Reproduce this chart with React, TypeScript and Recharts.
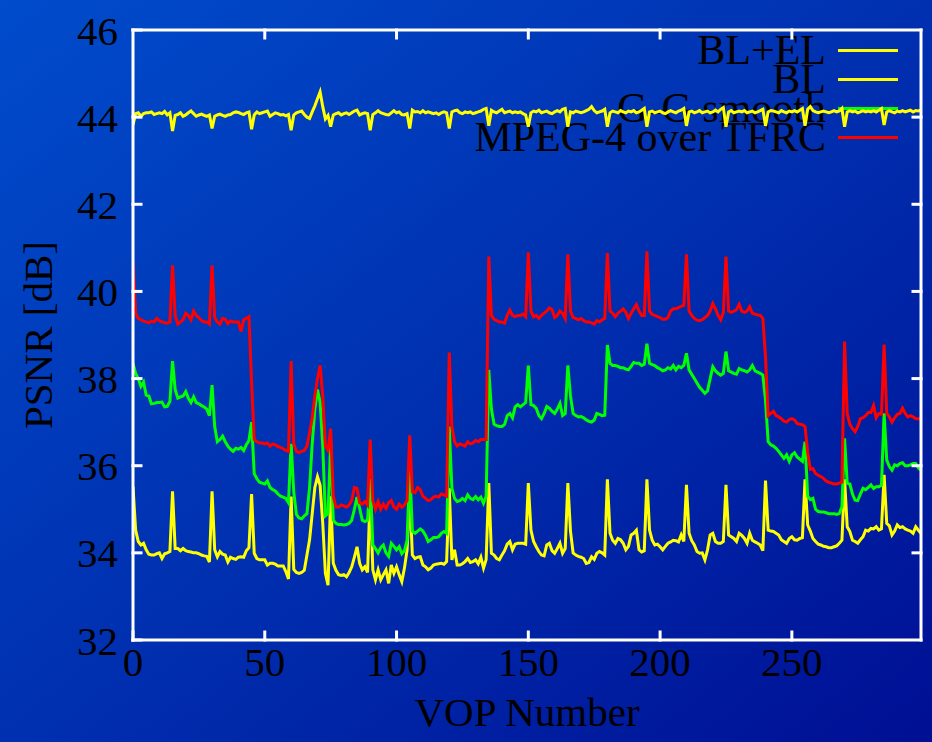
import React from 'react';
import { LineChart, Line, XAxis, YAxis, Legend, Label } from 'recharts';

const serif = "'Liberation Serif', 'Times New Roman', serif";

const vopTicks = [0, 50, 100, 150, 200, 250];
const vopInnerTicks = [50, 100, 150, 200, 250];
const psnrTicks = [32, 34, 36, 38, 40, 42, 44, 46];
const psnrInnerTicks = [34, 36, 38, 40, 42, 44];

// PSNR per VOP, frames 0..299
const blel = [
  43.82, 44.08, 44.1, 44.02, 44.08, 44.1, 44.1, 44.12, 44.06, 44.08,
  44.1, 44.08, 44.13, 44.05, 44.1, 43.68, 44.04, 44.06, 44.1, 44.02,
  44.05, 44.1, 44.14, 44.08, 44.02, 44.05, 44.07, 44.04, 44.02, 44.05,
  43.74, 44.02, 44.05, 44.07, 44.04, 44.02, 44.05, 44.06, 44.1, 44.12,
  44.11, 44.08, 44.06, 44.1, 44.12, 43.72, 44.05, 44.12, 44.08, 44.1,
  44.12, 44.14, 44.02, 44.06, 44.1, 44.08, 44.05, 44.06, 44.03, 44.06,
  43.7, 44.05, 44.1, 44.12, 44.14, 44.06, 44.0, 43.97, 44.12, 44.26,
  44.42, 44.58, 44.24, 43.96, 44.04, 43.78, 44.05, 44.08, 44.1, 44.05,
  44.08, 44.1, 44.06, 44.1, 44.14, 44.16, 44.05, 44.08, 44.1, 44.08,
  43.7, 44.06, 44.1, 44.15, 44.1, 44.08, 44.06, 44.05, 44.1, 44.15,
  44.1, 44.12, 44.06, 44.05, 44.08, 43.74, 44.16, 44.12, 44.13, 44.1,
  44.15, 44.1, 44.12, 44.1, 44.08, 44.1, 44.06, 44.1, 44.12, 44.1,
  43.74, 44.12, 44.15, 44.16, 44.1, 44.08, 44.12, 44.1, 44.12, 44.08,
  44.1, 44.12, 44.14, 44.18, 44.2, 43.8, 44.16, 44.12, 44.1, 44.14,
  44.18, 44.1, 44.12, 44.14, 44.1, 44.12, 44.1, 44.12, 44.08, 44.05,
  43.78, 44.1, 44.14, 44.12, 44.16, 44.1, 44.12, 44.14, 44.1, 44.08,
  44.12, 44.15, 44.12, 44.18, 44.2, 43.78, 44.12, 44.1, 44.14, 44.12,
  44.1, 44.12, 44.15, 44.18, 44.24, 44.15, 44.1, 44.12, 44.14, 44.18,
  43.78, 44.1, 44.14, 44.12, 44.1, 44.15, 44.12, 44.1, 44.14, 44.12,
  44.15, 44.1, 44.12, 44.16, 44.2, 43.78, 44.12, 44.14, 44.1, 44.12,
  44.14, 44.1, 44.08, 44.12, 44.15, 44.12, 44.1, 44.14, 44.16, 44.2,
  43.8, 44.12, 44.14, 44.1, 44.12, 44.15, 44.1, 44.12, 44.14, 44.1,
  44.12, 44.16, 44.12, 44.18, 44.22, 43.78, 44.12, 44.15, 44.1, 44.12,
  44.14, 44.12, 44.15, 44.1, 44.12, 44.14, 44.1, 44.12, 44.15, 44.18,
  43.8, 44.12, 44.15, 44.14, 44.12, 44.1, 44.15, 44.12, 44.1, 44.14,
  44.12, 44.15, 44.12, 44.16, 44.2, 43.8, 44.18, 44.24, 44.15, 44.12,
  44.1, 44.12, 44.14, 44.12, 44.1, 44.12, 44.15, 44.12, 44.14, 44.2,
  43.78, 44.12, 44.15, 44.12, 44.14, 44.1, 44.12, 44.15, 44.12, 44.14,
  44.12, 44.15, 44.12, 44.16, 44.2, 43.82, 44.12, 44.15, 44.12, 44.1,
  44.14, 44.12, 44.15, 44.12, 44.14, 44.16, 44.12, 44.15, 44.14, 44.16,
];

const bl = [
  35.52, 34.52, 34.26, 34.18, 34.22, 34.07, 33.97, 33.95, 33.95, 33.98,
  34.0, 33.87, 33.98, 34.0, 34.03, 35.41, 34.1, 34.1, 34.05, 34.1,
  34.05, 34.03, 34.02, 34.0, 34.0, 33.98, 33.95, 33.93, 33.92, 33.79,
  35.41, 34.07, 33.91, 34.03, 33.97, 33.95, 33.79, 33.9, 33.87, 33.85,
  33.9, 33.91, 33.9, 34.05, 34.12, 35.35, 33.99, 33.87, 33.84, 33.84,
  33.84, 33.72, 33.76, 33.76, 33.74, 33.7, 33.7, 33.7, 33.57, 33.4,
  35.29, 33.62, 33.55, 33.53, 33.55, 33.6, 33.95, 34.3, 34.9, 35.5,
  35.75, 35.55, 34.68, 33.53, 33.26, 35.3, 33.76, 33.6, 33.5, 33.48,
  33.5, 33.45, 33.55, 33.68, 33.9, 34.14, 33.76, 33.61, 33.68, 33.55,
  35.4, 33.61, 33.38, 33.61, 33.38, 33.5, 33.61, 33.3, 33.72, 33.53,
  33.68, 33.5, 33.34, 33.65, 34.07, 35.4, 33.95, 33.87, 33.9, 33.91,
  33.72, 33.68, 33.61, 33.65, 33.72, 33.74, 33.75, 33.76, 33.74, 33.8,
  35.48, 33.84, 34.07, 33.72, 33.72, 33.75, 33.8, 33.87, 33.78, 33.8,
  33.84, 33.75, 33.9, 33.65, 33.85, 35.6, 33.99, 33.95, 33.87, 33.84,
  33.95, 34.05, 34.2, 34.26, 34.07, 34.2, 34.22, 34.22, 34.22, 34.2,
  35.6, 34.52, 34.26, 34.14, 34.03, 33.95, 33.93, 34.18, 34.22, 34.05,
  33.99, 34.1, 34.22, 33.99, 34.1, 35.6, 34.5, 34.0, 33.95, 33.92,
  33.9, 33.87, 33.76, 33.78, 33.91, 33.85, 33.99, 34.03, 34.0, 33.95,
  35.69, 34.45, 34.29, 34.22, 34.33, 34.3, 34.22, 34.07, 34.15, 34.41,
  34.45, 34.52, 34.07, 34.02, 34.05, 35.69, 34.52, 34.29, 34.18, 34.2,
  34.14, 34.07, 34.15, 34.22, 34.25, 34.29, 34.28, 34.25, 34.41, 34.26,
  35.56, 34.45, 34.28, 34.18, 34.03, 33.99, 34.0, 33.84, 34.07, 34.41,
  34.45, 34.26, 34.22, 34.22, 34.26, 35.56, 34.41, 34.37, 34.33, 34.26,
  34.45, 34.4, 34.33, 34.22, 34.45, 34.29, 34.25, 34.22, 34.18, 34.05,
  35.66, 34.52, 34.5, 34.49, 34.45, 34.41, 34.3, 34.26, 34.22, 34.33,
  34.37, 34.3, 34.29, 34.33, 34.35, 35.69, 34.64, 34.5, 34.33, 34.26,
  34.2, 34.18, 34.15, 34.14, 34.12, 34.12, 34.14, 34.16, 34.22, 34.29,
  35.69, 34.6, 34.49, 34.29, 34.26, 34.22, 34.3, 34.37, 34.52, 34.5,
  34.56, 34.55, 34.6, 34.52, 34.55, 35.79, 34.68, 34.62, 34.41, 34.5,
  34.64, 34.58, 34.6, 34.55, 34.52, 34.5, 34.45, 34.6, 34.52, 34.45,
];

const ggSmooth = [
  38.35, 38.12, 38.0, 37.82, 37.92, 37.62, 37.6, 37.42, 37.43, 37.45,
  37.45, 37.46, 37.35, 37.36, 37.48, 38.4, 37.75, 37.55, 37.58, 37.6,
  37.7, 37.55, 37.45, 37.58, 37.45, 37.42, 37.38, 37.35, 37.3, 37.15,
  37.85, 36.9, 36.55, 36.6, 36.68, 36.55, 36.45, 36.38, 36.33, 36.4,
  36.38, 36.42, 36.35, 36.48, 36.58, 37.0, 35.82, 35.7, 35.62, 35.6,
  35.58, 35.65, 35.5, 35.45, 35.42, 35.35, 35.3, 35.28, 35.25, 35.15,
  36.5, 35.4, 34.88, 34.8, 34.78, 34.85, 34.9, 35.5, 36.5, 37.3,
  37.75, 37.45, 36.45, 34.85, 34.9, 36.5, 34.75, 34.68, 34.65, 34.65,
  34.64, 34.65, 34.68, 34.75, 35.0, 35.28, 35.02, 34.75, 34.72, 34.75,
  35.7, 34.18, 34.1, 34.0, 34.12, 34.18, 34.0, 33.92, 34.22, 34.15,
  34.07, 34.14, 33.98, 34.05, 34.29, 35.98, 34.5, 34.45, 34.5, 34.55,
  34.5, 34.4, 34.26, 34.3, 34.35, 34.35, 34.37, 34.45, 34.49, 34.45,
  36.9, 35.48, 35.25, 35.18, 35.2, 35.25, 35.2, 35.33, 35.25, 35.22,
  35.29, 35.22, 35.28, 35.14, 35.3, 38.2, 37.3, 36.95, 36.92, 36.9,
  36.9, 36.95, 37.15, 37.2, 37.1, 37.35, 37.4, 37.35, 37.4, 37.45,
  38.3, 37.4, 37.38, 37.32, 37.15, 37.08, 37.2, 37.36, 37.32, 37.25,
  37.2, 37.3, 37.43, 37.15, 37.2, 38.3, 37.6, 37.2, 37.15, 37.12,
  37.13, 37.1, 37.05, 37.02, 37.0, 37.05, 37.2, 37.18, 37.15, 37.16,
  38.77, 38.35, 38.3, 38.3, 38.28, 38.25, 38.25, 38.22, 38.2, 38.28,
  38.37, 38.35, 38.35, 38.3, 38.33, 38.8, 38.35, 38.32, 38.3, 38.25,
  38.22, 38.18, 38.2, 38.25, 38.22, 38.3, 38.2, 38.28, 38.25, 38.3,
  38.58, 38.2, 38.1, 38.0, 37.9, 37.8, 37.73, 37.66, 37.72, 38.0,
  38.27, 38.18, 38.12, 38.08, 38.12, 38.62, 38.18, 38.15, 38.12, 38.1,
  38.23, 38.2, 38.18, 38.15, 38.2, 38.3, 38.18, 38.15, 38.12, 38.08,
  37.5, 36.55, 36.48, 36.45, 36.4, 36.33, 36.25, 36.17, 36.25, 36.1,
  36.25, 36.3, 36.2, 36.15, 36.1, 36.55, 35.3, 35.22, 35.25, 35.0,
  34.95, 34.94, 34.94, 34.92, 34.9, 34.9, 34.9, 34.88, 34.9, 35.06,
  36.63, 35.6, 35.58, 35.35, 35.21, 35.2, 35.35, 35.48, 35.45, 35.5,
  35.56, 35.48, 35.52, 35.52, 35.55, 37.2, 36.13, 35.98, 35.9, 36.02,
  36.0, 36.05, 36.07, 36.0, 36.0, 36.02, 36.05, 36.05, 35.95, 35.9,
];

const tfrc = [
  40.7, 39.5, 39.38, 39.35, 39.32, 39.3, 39.28, 39.32, 39.3, 39.38,
  39.33, 39.3, 39.28, 39.27, 39.3, 40.6, 39.45, 39.25, 39.3, 39.35,
  39.5, 39.45, 39.35, 39.55, 39.45, 39.4, 39.33, 39.3, 39.3, 39.25,
  40.6, 39.4, 39.3, 39.25, 39.38, 39.36, 39.26, 39.32, 39.3, 39.3,
  39.3, 39.08, 39.35, 39.38, 39.42, 37.9, 36.6, 36.55, 36.52, 36.52,
  36.5, 36.52, 36.45, 36.5, 36.48, 36.44, 36.42, 36.39, 36.35, 36.33,
  38.4, 36.5, 36.33, 36.3, 36.33, 36.35, 36.45, 36.75, 37.1, 37.6,
  38.0, 38.3, 37.6, 36.45, 36.35, 36.85, 35.3, 35.05, 35.05, 35.1,
  35.08, 35.05, 35.1, 35.2, 35.5, 35.48, 35.15, 35.12, 35.18, 35.1,
  36.6, 35.2, 35.0, 35.18, 35.0, 35.12, 35.02, 35.15, 35.2, 35.05,
  35.0, 35.12, 35.05, 35.1, 35.2, 36.7, 35.4, 35.38, 35.5, 35.45,
  35.3, 35.25, 35.2, 35.22, 35.28, 35.3, 35.28, 35.35, 35.33, 35.3,
  38.6, 36.9, 36.55, 36.45, 36.5, 36.48, 36.45, 36.55, 36.5, 36.52,
  36.58, 36.55, 36.6, 36.6, 36.6, 40.8, 39.45, 39.36, 39.33, 39.3,
  39.3, 39.27, 39.45, 39.57, 39.45, 39.42, 39.45, 39.45, 39.48, 39.42,
  40.9, 39.55, 39.42, 39.45, 39.38, 39.45, 39.5, 39.55, 39.62, 39.58,
  39.4, 39.45, 39.55, 39.5, 39.38, 40.85, 39.55, 39.4, 39.38, 39.35,
  39.38, 39.33, 39.3, 39.3, 39.28, 39.25, 39.33, 39.3, 39.35, 39.38,
  40.88, 39.55, 39.5, 39.42, 39.5, 39.55, 39.6, 39.52, 39.38, 39.5,
  39.6, 39.7, 39.55, 39.45, 39.45, 40.92, 39.55, 39.47, 39.45, 39.42,
  39.4, 39.36, 39.36, 39.4, 39.55, 39.6, 39.6, 39.63, 39.66, 39.68,
  40.85, 39.55, 39.45, 39.38, 39.34, 39.33, 39.35, 39.4, 39.45, 39.55,
  39.72, 39.6, 39.45, 39.35, 39.52, 40.8, 39.55, 39.52, 39.55, 39.58,
  39.7, 39.55, 39.52, 39.55, 39.65, 39.5, 39.48, 39.46, 39.45, 39.38,
  38.5, 37.15, 37.2, 37.25, 37.15, 37.12, 37.08, 37.02, 37.0, 37.06,
  37.08, 37.05, 36.97, 36.95, 36.94, 36.9, 36.3, 35.92, 35.93, 35.82,
  35.78, 35.75, 35.71, 35.65, 35.62, 35.6, 35.58, 35.58, 35.6, 35.62,
  38.85, 37.2, 36.95, 36.85, 36.78, 36.9, 37.08, 37.1, 37.15, 37.22,
  37.22, 37.38, 37.1, 37.2, 37.18, 38.78, 37.2, 37.12, 37.0, 37.1,
  37.18, 37.2, 37.32, 37.2, 37.12, 37.15, 37.12, 37.08, 37.08, 37.08,
];

const series = [
  { key: 'blel', name: 'BL+EL', color: '#ffff00' },
  { key: 'bl', name: 'BL', color: '#ffff00' },
  { key: 'gg', name: 'G-G smooth', color: '#00ff00' },
  { key: 'tfrc', name: 'MPEG-4 over TFRC', color: '#ff0000' },
];

const data = bl.map((_, i) => ({
  vop: i,
  blel: blel[i],
  bl: bl[i],
  gg: ggSmooth[i],
  tfrc: tfrc[i],
}));

const white = { stroke: '#ffffff', strokeWidth: 3, strokeLinecap: 'square' as const };
const tickFont = { fill: '#000', fontSize: 41, fontFamily: serif };
const NoTick = () => <g />;

const KeyBox = () => (
  <div style={{ display: 'flex', flexDirection: 'column', alignItems: 'flex-end', fontFamily: serif, fontSize: 42, lineHeight: '29px', color: '#000' }}>
    {series.map((s) => (
      <div key={s.key} style={{ display: 'flex', alignItems: 'center', height: 29, whiteSpace: 'nowrap' }}>
        <span>{s.name}</span>
        <span style={{ display: 'inline-block', width: 60, height: 3, background: s.color, marginLeft: 12 }} />
      </div>
    ))}
  </div>
);

const YTitle = (props: any) => {
  const vb = props.viewBox || { x: 0, y: 30, width: 133, height: 610 };
  const cx = vb.x + 52;
  const cy = vb.y + vb.height / 2;
  return (
    <text x={cx} y={cy} transform={`rotate(-90 ${cx} ${cy})`} textAnchor="middle" fill="#000" fontSize={41} fontFamily={serif}>
      PSNR [dB]
    </text>
  );
};

const XTitle = (props: any) => {
  const vb = props.viewBox || { x: 133, y: 640, width: 788, height: 102 };
  return (
    <text x={vb.x + vb.width / 2} y={vb.y + 86} textAnchor="middle" fill="#000" fontSize={41} fontFamily={serif}>
      VOP Number
    </text>
  );
};

export default function App() {
  return (
    <div
      style={{
        position: 'absolute',
        top: 0,
        left: 0,
        width: 932,
        height: 742,
        overflow: 'hidden',
        zIndex: 0,
        background: 'linear-gradient(to bottom right, #004ccc 0%, #0030b0 50%, #000f94 100%)',
      }}
    >
      <LineChart width={932} height={742} data={data} margin={{ top: 0, right: 0, bottom: 0, left: 0 }}>
        <XAxis
          dataKey="vop"
          type="number"
          domain={[0, 299]}
          ticks={vopTicks}
          interval={0}
          allowDataOverflow
          height={102}
          tickSize={-8}
          tickMargin={15}
          axisLine={white}
          tickLine={white}
          tick={tickFont}
        >
          <Label content={<XTitle />} />
        </XAxis>
        <XAxis
          xAxisId="top"
          orientation="top"
          type="number"
          domain={[0, 299]}
          ticks={vopInnerTicks}
          interval={0}
          allowDataOverflow
          height={30}
          tickSize={-8}
          axisLine={white}
          tickLine={white}
          tick={NoTick}
        />
        <YAxis
          type="number"
          domain={[32, 46]}
          ticks={psnrTicks}
          interval={0}
          allowDataOverflow
          width={133}
          tickSize={-8}
          tickMargin={23}
          axisLine={white}
          tickLine={white}
          tick={tickFont}
        >
          <Label content={<YTitle />} />
        </YAxis>
        <YAxis
          yAxisId="right"
          orientation="right"
          type="number"
          domain={[32, 46]}
          ticks={psnrInnerTicks}
          interval={0}
          allowDataOverflow
          width={11}
          tickSize={-8}
          axisLine={white}
          tickLine={white}
          tick={NoTick}
        />
        <Legend
          layout="vertical"
          align="center"
          verticalAlign="middle"
          content={<KeyBox />}
          wrapperStyle={{ top: 36, left: 0, width: 898, zIndex: -1 }}
        />
        {series.map((s) => (
          <Line
            key={s.key}
            type="linear"
            dataKey={s.key}
            name={s.name}
            stroke={s.color}
            strokeWidth={3}
            dot={false}
            activeDot={false}
            isAnimationActive={false}
          />
        ))}
      </LineChart>
    </div>
  );
}
